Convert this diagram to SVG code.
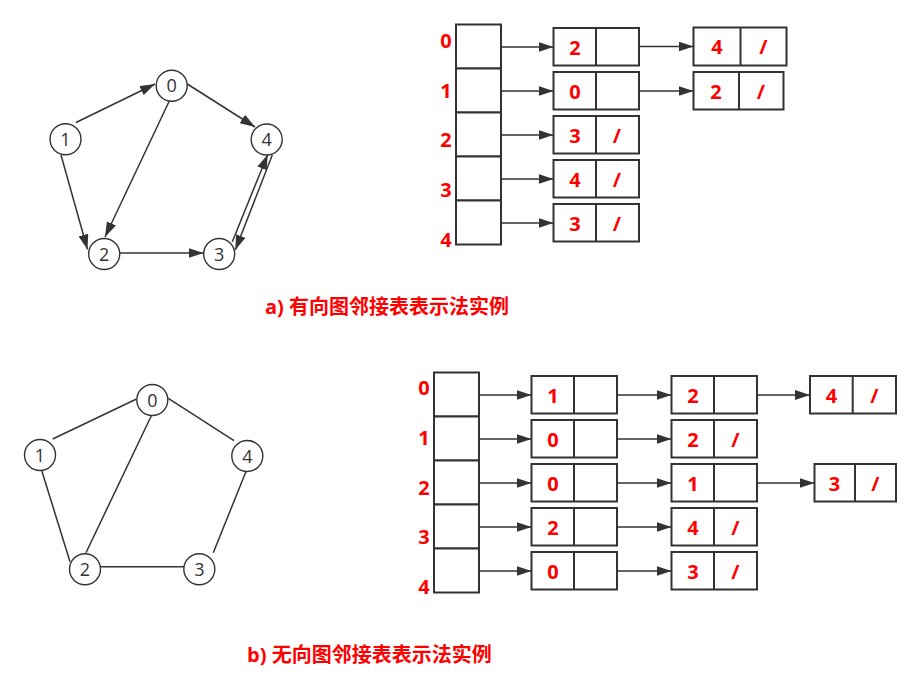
<svg xmlns="http://www.w3.org/2000/svg" width="921" height="689" viewBox="0 0 921 689">
<style>
.c{fill:#fff;stroke:#333;stroke-width:1.4}
.nt{font-family:"Open Sans","Noto Sans",sans-serif;font-size:18px;fill:#333;text-anchor:middle}
.e{stroke:#333;stroke-width:1.5;fill:none}
.ea{stroke:#333;stroke-width:1.5;fill:none;marker-end:url(#ah)}
.b{fill:#fff;stroke:#333;stroke-width:2}
.d{stroke:#333;stroke-width:2}
.t{font-family:"Open Sans","Noto Sans",sans-serif;font-size:20px;font-weight:bold;fill:#ff0000;text-anchor:middle}
.cap{font-family:"Open Sans","Noto Sans CJK SC",sans-serif;font-size:20px;font-weight:bold;fill:#ff0000}
</style>
<defs>
<marker id="ah" markerUnits="userSpaceOnUse" markerWidth="15" markerHeight="10" refX="15" refY="5" orient="auto">
<path d="M0,0 L15,5 L0,10 z" fill="#333"/>
</marker>
</defs>
<rect width="921" height="689" fill="#fff"/>

<!-- connectors -->
<g id="connectors">
<!-- top graph -->
<line class="ea" x1="76" y1="122.5" x2="155" y2="84"/>
<line class="ea" x1="186.5" y1="83.5" x2="255" y2="127"/>
<line class="ea" x1="170" y1="99.5" x2="105" y2="237"/>
<line class="ea" x1="61" y1="155" x2="87.5" y2="249.5"/>
<line class="ea" x1="120" y1="253" x2="203.5" y2="253"/>
<line class="ea" x1="232.3" y1="241.7" x2="267.7" y2="154.5"/>
<line class="ea" x1="272.3" y1="155" x2="235.3" y2="250"/>
<!-- bottom graph -->
<line class="e" x1="52.7" y1="439" x2="136" y2="399.3"/>
<line class="e" x1="168.3" y1="398.3" x2="234" y2="440.7"/>
<line class="e" x1="151.7" y1="415" x2="86" y2="552.7"/>
<line class="e" x1="41" y1="468.3" x2="70" y2="561.7"/>
<line class="e" x1="100" y1="566.7" x2="185" y2="566.7"/>
<line class="e" x1="213.3" y1="552.7" x2="247.3" y2="468.3"/>
<!-- top table -->
<line class="ea" x1="501" y1="47" x2="553.5" y2="47"/>
<line class="ea" x1="501" y1="91" x2="553.5" y2="91"/>
<line class="ea" x1="501" y1="135" x2="553.5" y2="135"/>
<line class="ea" x1="501" y1="179" x2="553.5" y2="179"/>
<line class="ea" x1="501" y1="223" x2="553.5" y2="223"/>
<line class="ea" x1="639" y1="46.5" x2="693.5" y2="46.5"/>
<line class="ea" x1="639" y1="91" x2="693.5" y2="91"/>
<!-- bottom table -->
<line class="ea" x1="479" y1="395" x2="531.5" y2="395"/>
<line class="ea" x1="479" y1="439" x2="531.5" y2="439"/>
<line class="ea" x1="479" y1="483" x2="531.5" y2="483"/>
<line class="ea" x1="479" y1="527" x2="531.5" y2="527"/>
<line class="ea" x1="479" y1="571" x2="531.5" y2="571"/>
<line class="ea" x1="617" y1="395" x2="671.5" y2="395"/>
<line class="ea" x1="617" y1="439" x2="671.5" y2="439"/>
<line class="ea" x1="617" y1="483" x2="671.5" y2="483"/>
<line class="ea" x1="617" y1="527" x2="671.5" y2="527"/>
<line class="ea" x1="617" y1="571" x2="671.5" y2="571"/>
<line class="ea" x1="757" y1="395" x2="810" y2="395"/>
<line class="ea" x1="757" y1="483" x2="814.5" y2="483"/>
</g>

<!-- top graph nodes -->
<g id="a-n0"><circle class="c" cx="171.7" cy="85.8" r="15.5"/><text class="nt" x="171.7" y="92.3">0</text></g>
<g id="a-n1"><circle class="c" cx="65.5" cy="139.2" r="15.5"/><text class="nt" x="65.5" y="145.7">1</text></g>
<g id="a-n4"><circle class="c" cx="266.7" cy="139.5" r="15.5"/><text class="nt" x="266.7" y="146">4</text></g>
<g id="a-n2"><circle class="c" cx="104.2" cy="254" r="15.5"/><text class="nt" x="104.2" y="260.5">2</text></g>
<g id="a-n3"><circle class="c" cx="219.2" cy="254" r="15.5"/><text class="nt" x="219.2" y="260.5">3</text></g>

<!-- bottom graph nodes -->
<g id="b-n0"><circle class="c" cx="152.3" cy="400" r="15.5"/><text class="nt" x="152.3" y="406.5">0</text></g>
<g id="b-n1"><circle class="c" cx="40" cy="455" r="15.5"/><text class="nt" x="40" y="461.5">1</text></g>
<g id="b-n4"><circle class="c" cx="247.3" cy="456" r="15.5"/><text class="nt" x="247.3" y="462.5">4</text></g>
<g id="b-n2"><circle class="c" cx="85" cy="569.3" r="15.5"/><text class="nt" x="85" y="575.8">2</text></g>
<g id="b-n3"><circle class="c" cx="199.3" cy="569.3" r="15.5"/><text class="nt" x="199.3" y="575.8">3</text></g>

<!-- top table index column -->
<g id="a-index">
<rect class="b" x="456" y="24.5" width="45" height="44"/>
<rect class="b" x="456" y="68.5" width="45" height="44"/>
<rect class="b" x="456" y="112.5" width="45" height="44"/>
<rect class="b" x="456" y="156.5" width="45" height="44"/>
<rect class="b" x="456" y="200.5" width="45" height="44"/>
<text class="t" x="446" y="48">0</text>
<text class="t" x="446" y="98">1</text>
<text class="t" x="446" y="147">2</text>
<text class="t" x="446" y="197">3</text>
<text class="t" x="446" y="246.5">4</text>
</g>

<!-- top table list nodes -->
<g id="a-r0c1"><rect class="b" x="553.5" y="28" width="85.5" height="37.5"/><line class="d" x1="596" y1="28" x2="596" y2="65.5"/><text class="t" x="575" y="54.5">2</text></g>
<g id="a-r0c2"><rect class="b" x="693.5" y="27.5" width="93" height="38"/><line class="d" x1="740.5" y1="27.5" x2="740.5" y2="65.5"/><text class="t" x="717" y="54">4</text><text class="t" x="763.5" y="54">/</text></g>
<g id="a-r1c1"><rect class="b" x="553.5" y="72" width="85.5" height="37.5"/><line class="d" x1="596" y1="72" x2="596" y2="109.5"/><text class="t" x="575" y="98.5">0</text></g>
<g id="a-r1c2"><rect class="b" x="693.5" y="72" width="90" height="37.5"/><line class="d" x1="739" y1="72" x2="739" y2="109.5"/><text class="t" x="716" y="98.5">2</text><text class="t" x="761" y="98.5">/</text></g>
<g id="a-r2c1"><rect class="b" x="553.5" y="116" width="85.5" height="37.5"/><line class="d" x1="596" y1="116" x2="596" y2="153.5"/><text class="t" x="575" y="142.5">3</text><text class="t" x="617" y="142.5">/</text></g>
<g id="a-r3c1"><rect class="b" x="553.5" y="160" width="85.5" height="37.5"/><line class="d" x1="596" y1="160" x2="596" y2="197.5"/><text class="t" x="575" y="186.5">4</text><text class="t" x="617" y="186.5">/</text></g>
<g id="a-r4c1"><rect class="b" x="553.5" y="204" width="85.5" height="37.5"/><line class="d" x1="596" y1="204" x2="596" y2="241.5"/><text class="t" x="575" y="230.5">3</text><text class="t" x="617" y="230.5">/</text></g>

<!-- bottom table index column -->
<g id="b-index">
<rect class="b" x="434" y="372.5" width="45" height="44"/>
<rect class="b" x="434" y="416.5" width="45" height="44"/>
<rect class="b" x="434" y="460.5" width="45" height="44"/>
<rect class="b" x="434" y="504.5" width="45" height="44"/>
<rect class="b" x="434" y="548.5" width="45" height="44"/>
<text class="t" x="424" y="395">0</text>
<text class="t" x="424" y="445">1</text>
<text class="t" x="424" y="494.5">2</text>
<text class="t" x="424" y="544">3</text>
<text class="t" x="424" y="594">4</text>
</g>

<!-- bottom table list nodes -->
<g id="b-r0c1"><rect class="b" x="531.5" y="376" width="85.5" height="37.5"/><line class="d" x1="574" y1="376" x2="574" y2="413.5"/><text class="t" x="553" y="402.5">1</text></g>
<g id="b-r0c2"><rect class="b" x="671.5" y="376" width="85.5" height="37.5"/><line class="d" x1="714" y1="376" x2="714" y2="413.5"/><text class="t" x="693" y="402.5">2</text></g>
<g id="b-r0c3"><rect class="b" x="810" y="376" width="86" height="37.5"/><line class="d" x1="852.7" y1="376" x2="852.7" y2="413.5"/><text class="t" x="831.5" y="402.5">4</text><text class="t" x="874.5" y="402.5">/</text></g>
<g id="b-r1c1"><rect class="b" x="531.5" y="420" width="85.5" height="37.5"/><line class="d" x1="574" y1="420" x2="574" y2="457.5"/><text class="t" x="553" y="446.5">0</text></g>
<g id="b-r1c2"><rect class="b" x="671.5" y="420" width="85.5" height="37.5"/><line class="d" x1="714" y1="420" x2="714" y2="457.5"/><text class="t" x="693" y="446.5">2</text><text class="t" x="735.5" y="446.5">/</text></g>
<g id="b-r2c1"><rect class="b" x="531.5" y="464" width="85.5" height="37.5"/><line class="d" x1="574" y1="464" x2="574" y2="501.5"/><text class="t" x="553" y="490.5">0</text></g>
<g id="b-r2c2"><rect class="b" x="671.5" y="464" width="85.5" height="37.5"/><line class="d" x1="714" y1="464" x2="714" y2="501.5"/><text class="t" x="693" y="490.5">1</text></g>
<g id="b-r2c3"><rect class="b" x="814.5" y="464" width="81.5" height="37.5"/><line class="d" x1="855" y1="464" x2="855" y2="501.5"/><text class="t" x="834.5" y="490.5">3</text><text class="t" x="875.5" y="490.5">/</text></g>
<g id="b-r3c1"><rect class="b" x="531.5" y="508" width="85.5" height="37.5"/><line class="d" x1="574" y1="508" x2="574" y2="545.5"/><text class="t" x="553" y="534.5">2</text></g>
<g id="b-r3c2"><rect class="b" x="671.5" y="508" width="85.5" height="37.5"/><line class="d" x1="714" y1="508" x2="714" y2="545.5"/><text class="t" x="693" y="534.5">4</text><text class="t" x="735.5" y="534.5">/</text></g>
<g id="b-r4c1"><rect class="b" x="531.5" y="552" width="85.5" height="37.5"/><line class="d" x1="574" y1="552" x2="574" y2="589.5"/><text class="t" x="553" y="578.5">0</text></g>
<g id="b-r4c2"><rect class="b" x="671.5" y="552" width="85.5" height="37.5"/><line class="d" x1="714" y1="552" x2="714" y2="589.5"/><text class="t" x="693" y="578.5">3</text><text class="t" x="735.5" y="578.5">/</text></g>

<!-- captions -->
<text class="cap" x="265" y="314">a) 有向图邻接表表示法实例</text>
<text class="cap" x="247" y="662">b) 无向图邻接表表示法实例</text>
</svg>
